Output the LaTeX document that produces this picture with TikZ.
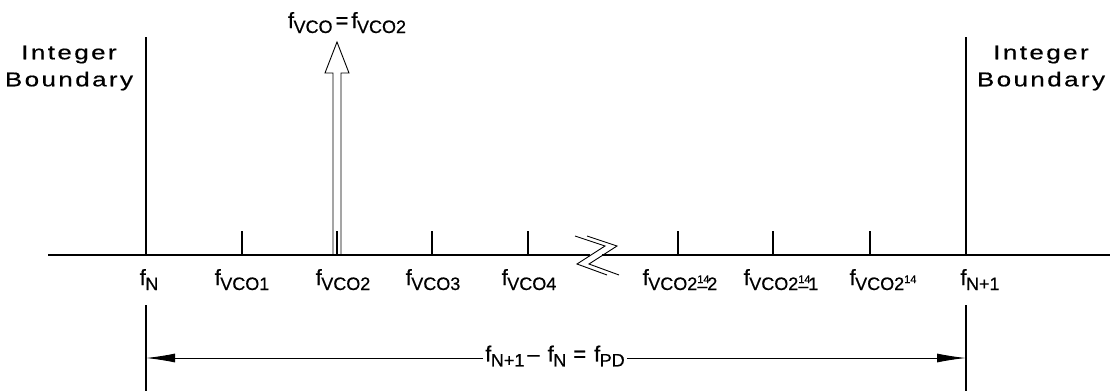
\documentclass[tikz,border=0pt]{standalone}
\usepackage{fontspec}
\setmainfont[FakeBold=0.6]{Liberation Sans}
\newfontfamily\bndfont[LetterSpace=12,FakeStretch=1.3,FakeBold=0.6]{Liberation Sans}
\usetikzlibrary{arrows.meta,positioning}

% f with a large, lowered index
\newcommand{\fsub}[1]{{\fontsize{22}{22}\selectfont f}\kern-0.5pt\raisebox{-5pt}{\fontsize{18}{18}\selectfont #1}}
% small power 14
\newcommand{\pwr}{\raisebox{7pt}{\fontsize{11}{11}\selectfont 14}}
\newcommand{\pwrover}[1]{\makebox[0pt][l]{\pwr}\raisebox{-2pt}{#1}}

\tikzset{
  ln/.style={line width=1.2pt},
  tickln/.style={line width=1.2pt},
  lbl/.style={anchor=base, inner sep=0pt},
  bnd/.style={align=center, font=\bndfont\fontsize{20}{27}\selectfont},
  dim/.style={line width=0.9pt, -{Latex[length=29pt,width=9pt]}}
}

\begin{document}
\begin{tikzpicture}[x=1pt,y=-1pt]
  \useasboundingbox (0,0) rectangle (1110,391);

  % axis with break
  \coordinate (axL) at (48,255);
  \coordinate (axR) at (1110,255);
  \coordinate (brkL) at (590,255);
  \coordinate (brkR) at (602,255);
  \draw[ln] (axL) -- (brkL);
  \draw[ln] (brkR) -- (axR);
  \draw[line width=0.9pt] (575,236) -- (605,246) -- (577,264) -- (607,275);
  \draw[line width=0.9pt] (587,236) -- (617,246) -- (589,264) -- (619,275);

  % integer boundaries
  \coordinate (bN) at (146,255);
  \coordinate (bN1) at (966,255);
  \draw[ln] (bN) -- ++(0,-218);
  \draw[ln] (bN1) -- ++(0,-218);
  \node[bnd] (intL) at (69,68) {Integer\\Boundary};
  \node[bnd] (intR) at (1041,68) {Integer\\Boundary};

  % ticks
  \coordinate (vco1) at (242,255);
  \coordinate (vco2) at (337,255);
  \coordinate (vco3) at (432,255);
  \coordinate (vco4) at (528,255);
  \coordinate (vcoa) at (678,255);
  \coordinate (vcob) at (773,255);
  \coordinate (vcoc) at (870,255);
  \foreach \t in {vco1,vco2,vco3,vco4,vcoa,vcob,vcoc}
    \draw[tickln] (\t) -- ++(0,-24);

  % hollow arrow at fVCO2
  \draw[line width=0.9pt] (333,255) -- (333,73) -- (325,73) -- (337,42)
    -- (349,73) -- (341,73) -- (341,255);
  \node[lbl] (vcotop) at (347,28) {\fsub{VCO}\kern3pt{\fontsize{22}{22}\selectfont=}\kern3pt\fsub{VCO2}};

  % labels under the axis
  \node[lbl] (lN) at (149,285) {\fsub{N}};
  \node[lbl] (l1) at (242,285) {\fsub{VCO1}};
  \node[lbl] (l2) at (343,285) {\fsub{VCO2}};
  \node[lbl] (l3) at (433,285) {\fsub{VCO3}};
  \node[lbl] (l4) at (529,285) {\fsub{VCO4}};
  \node[lbl] (la) at (680,285) {\fsub{VCO2\pwrover{–}2}};
  \node[lbl] (lb) at (781,285) {\fsub{VCO2\pwrover{–}1}};
  \node[lbl] (lc) at (883,285) {\fsub{VCO2\pwr}};
  \node[lbl] (lN1) at (980,285) {\fsub{N+1}};

  % extension lines and span
  \draw[ln] (146,305) -- (146,391);
  \draw[ln] (966,305) -- (966,391);
  \coordinate (spL) at (146,358);
  \coordinate (spR) at (966,358);
  \node[inner sep=2pt, font=\fontsize{22}{22}\selectfont] (span) at (555,356)
    {\fsub{N+1}\kern3pt–\kern8pt\fsub{N}\kern7pt=\kern8pt\fsub{PD}};
  \draw[dim] (span.west |- spL) -- (spL);
  \draw[dim] (span.east |- spR) -- (spR);
\end{tikzpicture}
\end{document}
